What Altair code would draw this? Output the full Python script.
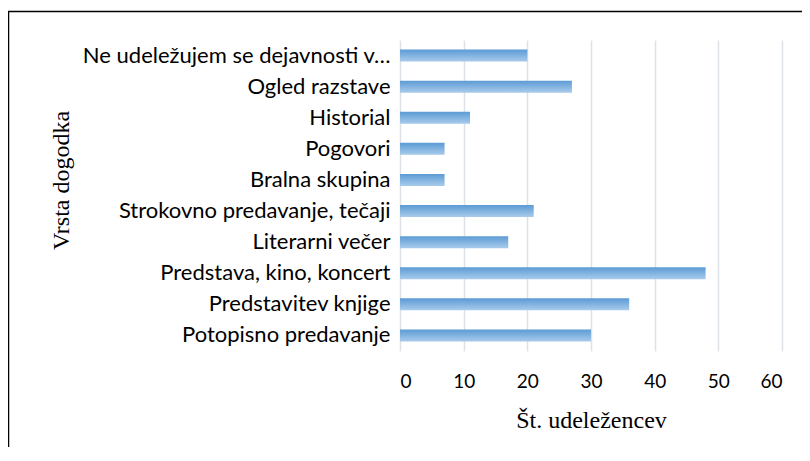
import altair as alt
import pandas as pd

categories = [
    "Ne udeležujem se dejavnosti v…",
    "Ogled razstave",
    "Historial",
    "Pogovori",
    "Bralna skupina",
    "Strokovno predavanje, tečaji",
    "Literarni večer",
    "Predstava, kino, koncert",
    "Predstavitev knjige",
    "Potopisno predavanje",
]
values = [20, 27, 11, 7, 7, 21, 17, 48, 36, 30]
x_ticks = [0, 10, 20, 30, 40, 50, 60]

df = pd.DataFrame({"cat": categories, "val": values})

grad = alt.Gradient(
    gradient="linear",
    stops=[alt.GradientStop(color="#5B9BD5", offset=0),
           alt.GradientStop(color="#A9CBEB", offset=1)],
    x1=0, x2=0, y1=0, y2=1,
)

bars = alt.Chart(df).mark_bar(color=grad, size=12).encode(
    x=alt.X("val:Q", scale=alt.Scale(domain=[0, 60], nice=False),
            axis=alt.Axis(values=x_ticks, title="Št. udeležencev", grid=True,
                          gridColor="#DDE1E8", gridWidth=1.5, domain=False, ticks=False,
                          labelFont="Lato", labelFontSize=19, labelColor="#000000",
                          labelPadding=21, titleFont="Liberation Serif", titleFontSize=24,
                          titleFontWeight="normal", titleColor="#000000", titlePadding=17)),
    y=alt.Y("cat:N", sort=None,
            axis=alt.Axis(title="Vrsta dogodka", domain=False, ticks=False, grid=False,
                          labelFont="Lato", labelFontSize=22, labelColor="#000000",
                          labelPadding=10, labelLimit=400,
                          titleFont="Liberation Serif", titleFontSize=24,
                          titleFontWeight="normal", titleColor="#000000",
                          titleX=-339, titleY=140, titleAngle=-90,
                          titleAlign="center", titleBaseline="middle")),
)

frame = pd.DataFrame({"a": [0]})
border_left = alt.Chart(frame).mark_rule(color="#000000", strokeWidth=1.5).encode(
    x=alt.value(-391.5), y=alt.value(-29), y2=alt.value(440),
)
border_top = alt.Chart(frame).mark_rule(color="#000000", strokeWidth=1.5).encode(
    x=alt.value(-392), x2=alt.value(430), y=alt.value(-28.5),
)

chart = alt.layer(border_left, border_top, bars).properties(
    width=382, height=311,
    autosize=alt.AutoSizeParams(type="none"),
    padding={"left": 392, "top": 32, "right": 20, "bottom": 96},
).configure_view(stroke=None)

chart.save("out.html", embed_options={"renderer": "svg", "actions": False})
